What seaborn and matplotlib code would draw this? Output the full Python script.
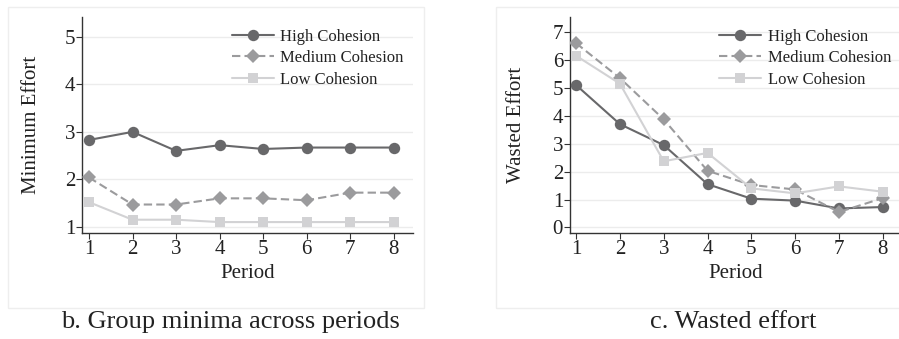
import numpy as np
import pandas as pd
import seaborn as sns
import matplotlib
matplotlib.use("Agg")
import matplotlib.pyplot as plt
from matplotlib.patches import Rectangle
from matplotlib.lines import Line2D

periods = [1, 2, 3, 4, 5, 6, 7, 8]
groups = ["High Cohesion", "Medium Cohesion", "Low Cohesion"]

min_high = [2.83, 3.00, 2.60, 2.72, 2.64, 2.67, 2.67, 2.67]
min_med = [2.04, 1.47, 1.47, 1.60, 1.60, 1.56, 1.72, 1.72]
min_low = [1.52, 1.15, 1.15, 1.10, 1.10, 1.10, 1.10, 1.10]

waste_high = [5.10, 3.70, 2.95, 1.55, 1.03, 0.96, 0.68, 0.73]
waste_med = [6.60, 5.35, 3.87, 2.03, 1.52, 1.36, 0.55, 1.05]
waste_low = [6.15, 5.15, 2.37, 2.67, 1.40, 1.22, 1.47, 1.28]

def long_df(h, m, l):
    rows = []
    for g, vals in zip(groups, [h, m, l]):
        for p, v in zip(periods, vals):
            rows.append({"Period": p, "value": v, "group": g})
    return pd.DataFrame(rows)

df_min = long_df(min_high, min_med, min_low)
df_waste = long_df(waste_high, waste_med, waste_low)

sns.set_theme(style="white")
plt.rcParams["font.family"] = ["Liberation Serif", "DejaVu Serif"]

palette = {"High Cohesion": "#68686a", "Medium Cohesion": "#9b9b9d", "Low Cohesion": "#d2d2d4"}
markers = {"High Cohesion": "o", "Medium Cohesion": "D", "Low Cohesion": "s"}
dashes = {"High Cohesion": "", "Medium Cohesion": (4, 2), "Low Cohesion": ""}
msizes = {"High Cohesion": 8.2, "Medium Cohesion": 7, "Low Cohesion": 7.5}

fig = plt.figure(figsize=(8.99, 3.39), dpi=100)
fig.patch.set_facecolor("white")

# panel backgrounds
fig.add_artist(Rectangle((8 / 899, 1 - 308 / 339), (424 - 8) / 899, (308 - 7) / 339,
                         transform=fig.transFigure, facecolor="none",
                         edgecolor="#eeeeee", linewidth=1.0, zorder=-5))
fig.add_artist(Rectangle((496 / 899, 1 - 308 / 339), (905 - 496) / 899, (308 - 7) / 339,
                         transform=fig.transFigure, facecolor="none",
                         edgecolor="#eeeeee", linewidth=1.0, zorder=-5))

ax1 = fig.add_axes([82 / 899, 1 - 233 / 339, (413 - 82) / 899, (233 - 17) / 339])
ax2 = fig.add_axes([570 / 899, 1 - 233 / 339, (902 - 570) / 899, (233 - 17) / 339])

def draw(ax, df, ylabel, ylim, yticks, xlim, legx, ylabpad):
    sns.lineplot(data=df, x="Period", y="value", hue="group", style="group",
                 palette=palette, markers=markers, dashes=dashes, ax=ax,
                 linewidth=1.5, markeredgewidth=0, legend=False, zorder=3)
    for line, g in zip(ax.lines, groups):
        line.set_markersize(msizes[g])
    ax.set_ylim(*ylim)
    ax.set_xlim(*xlim)
    ax.set_yticks(yticks)
    ax.set_xticks(periods)
    ax.set_facecolor("none")
    ax.grid(axis="y", color="#ececec", linewidth=1.0)
    ax.set_axisbelow(True)
    for s in ["top", "right"]:
        ax.spines[s].set_visible(False)
    for s in ["left", "bottom"]:
        ax.spines[s].set_color("#333333")
        ax.spines[s].set_linewidth(1.0)
    ax.tick_params(axis="both", which="both", length=4, width=0.8, color="#333333",
                   labelsize=15, labelcolor="#222222", pad=1, bottom=True, left=True)
    ax.set_xlabel("Period", fontsize=15, color="#222222", labelpad=4)
    ax.set_ylabel(ylabel, fontsize=15, color="#222222", labelpad=ylabpad)
    handles = [Line2D([], [], color=palette[g], marker=markers[g],
                      linestyle="--" if g == "Medium Cohesion" else "-",
                      markersize=msizes[g], markeredgewidth=0, linewidth=1.5)
               for g in groups]
    for h, g in zip(handles, groups):
        if g == "Medium Cohesion":
            h.set_dashes((4, 2))
    ax.legend(handles, groups, loc="upper left", bbox_to_anchor=(legx, 0.945),
              frameon=False, fontsize=12, handlelength=2.5, handletextpad=0.4,
              labelspacing=0.32, borderaxespad=0, borderpad=0, labelcolor="#222222")

draw(ax1, df_min, "Minimum Effort", (0.87, 5.42), [1, 2, 3, 4, 5], (0.84, 8.44), 0.453, 17)
draw(ax2, df_waste, "Wasted Effort", (-0.2, 7.54), [0, 1, 2, 3, 4, 5, 6, 7], (0.86, 8.44), 0.45, 19)

fig.text(230 / 899, 1 - 322 / 339, "b. Group minima across periods", ha="center", va="center",
         fontsize=19, color="#222222")
fig.text(733 / 899, 1 - 322 / 339, "c. Wasted effort", ha="center", va="center",
         fontsize=19, color="#222222")

fig.savefig("out.png", dpi=100, facecolor="white")
